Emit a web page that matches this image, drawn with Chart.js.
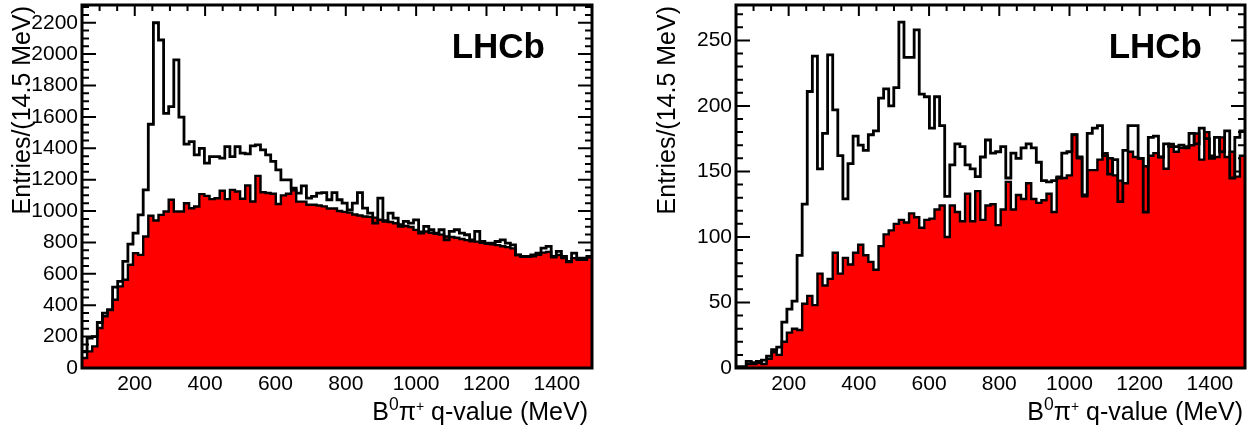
<!DOCTYPE html>
<html>
<head>
<meta charset="utf-8">
<script src="https://cdn.jsdelivr.net/npm/chart.js@4.4.1/dist/chart.umd.min.js"></script>
<style>
    html, body { margin: 0; padding: 0; background: #fff; }
    .panel { position: absolute; top: 0; width: 629px; height: 428px; }
    #leftPanel { left: 0; }
    #rightPanel { left: 629px; }
</style>
</head>
<body>
<div class="panel" id="leftPanel"><canvas id="leftChart" width="629" height="428"></canvas></div>
<div class="panel" id="rightPanel"><canvas id="rightChart" width="629" height="428"></canvas></div>
<script>
// q-value binning (MeV)
const qLow = 50;
const qHigh = 1500;
const binWidth = 14.5;

const xTickValues = [200, 400, 600, 800, 1000, 1200, 1400];
const yTickValuesLeft = [0, 200, 400, 600, 800, 1000, 1200, 1400, 1600, 1800, 2000, 2200];
const yTickValuesRight = [0, 50, 100, 150, 200, 250];

// left panel: all candidates / background (red)
const totalLeft = [
    106, 190, 200, 290, 350, 371, 515, 552, 679, 789,
    860, 976, 1135, 1553, 2200, 2090, 1623, 1665, 1963, 1598,
    1426, 1443, 1358, 1400, 1305, 1347, 1347, 1337, 1411, 1347,
    1411, 1369, 1364, 1415, 1422, 1390, 1358, 1316, 1263, 1199,
    1199, 1146, 1114, 1160, 1082, 1093, 1114, 1118, 1072, 1118,
    1072, 1050, 1008, 1050, 1118, 1019, 987, 923, 1082, 934,
    987, 955, 902, 934, 923, 944, 859, 902, 881, 859,
    881, 817, 870, 881, 859, 849, 817, 870, 806, 796,
    796, 806, 817, 796, 785, 721, 711, 711, 721, 732,
    764, 775, 711, 743, 711, 679, 732, 700, 700, 711
];
const bkgLeft = [
    64, 106, 138, 255, 330, 371, 435, 520, 562, 658,
    732, 721, 838, 970, 940, 976, 997, 1072, 997, 997,
    1050, 1018, 1029, 1108, 1097, 1076, 1082, 1129, 1076, 1135,
    1125, 1078, 1163, 1061, 1224, 1120, 1115, 1110, 1045, 1100,
    1110, 1133, 1060, 1060, 1040, 1040, 1035, 1030, 1016, 1016,
    1000, 995, 990, 978, 972, 965, 963, 958, 945, 940,
    930, 922, 915, 905, 898, 880, 868, 870, 862, 855,
    850, 838, 835, 830, 822, 815, 808, 805, 798, 792,
    788, 783, 776, 770, 762, 720, 710, 708, 712, 722,
    735, 740, 705, 720, 700, 675, 700, 690, 690, 705
];

// right panel
const totalRight = [
    1, 1, 5, 4, 5, 6, 9, 14, 16, 35,
    45, 51, 86, 125, 211, 238, 152, 179, 239, 197,
    162, 129, 156, 177, 170, 166, 178, 181, 206, 213,
    200, 214, 264, 237, 237, 258, 209, 207, 183, 207,
    185, 131, 155, 171, 169, 155, 152, 146, 161, 174,
    164, 165, 169, 145, 164, 160, 168, 171, 168, 157,
    143, 142, 143, 145, 164, 165, 178, 161, 132, 179,
    183, 185, 162, 148, 159, 127, 166, 185, 185, 160,
    119, 176, 177, 161, 171, 169, 169, 170, 168, 179,
    171, 183, 175, 160, 176, 165, 181, 145, 176, 181
];
const bkgRight = [
    0, 0, 3, 3, 4, 3, 7, 12, 10, 20,
    27, 30, 29, 49, 55, 48, 72, 63, 68, 88,
    72, 84, 79, 88, 94, 86, 81, 75, 93, 102,
    105, 110, 113, 111, 118, 115, 107, 113, 114, 121,
    124, 100, 124, 119, 112, 133, 112, 135, 113, 124,
    125, 109, 121, 142, 121, 132, 129, 141, 129, 126,
    128, 133, 119, 146, 145, 147, 178, 160, 131, 151,
    151, 159, 164, 160, 147, 143, 141, 165, 161, 160,
    154, 162, 164, 161, 152, 171, 165, 168, 169, 170,
    179, 159, 180, 162, 161, 176, 161, 165, 146, 162
];

const fontFamily = '"Liberation Sans", Arial, Helvetica, sans-serif';
Chart.defaults.font.family = fontFamily;

// bin contents -> step points at the left edge of every bin, plus closing edge
function histPoints(counts) {
    const pts = counts.map((v, i) => ({ x: qLow + i * binWidth, y: v }));
    pts.push({ x: qLow + counts.length * binWidth, y: counts[counts.length - 1] });
    return pts;
}

// ROOT-like frame: inward ticks on all four sides, titles, LHCb label
const rootFrame = {
    id: 'rootFrame',
    beforeDatasetsDraw(chart, args, opts) {
        const { ctx, chartArea: a, scales: { x, y } } = chart;
        ctx.save();
        ctx.strokeStyle = '#000';
        ctx.lineWidth = 2;
        ctx.beginPath();
        for (let v = 50; v < qHigh; v += 50) {
            const px = x.getPixelForValue(v);
            const len = v % 200 === 0 ? 11 : 6;
            ctx.moveTo(px, a.bottom); ctx.lineTo(px, a.bottom - len);
            ctx.moveTo(px, a.top); ctx.lineTo(px, a.top + len);
        }
        for (let v = opts.yMinor; v < y.max; v += opts.yMinor) {
            const py = y.getPixelForValue(v);
            const len = v % opts.yMajor === 0 ? 14 : 7;
            ctx.moveTo(a.left, py); ctx.lineTo(a.left + len, py);
            ctx.moveTo(a.right, py); ctx.lineTo(a.right - len, py);
        }
        ctx.stroke();
        ctx.restore();
    },
    afterDatasetsDraw(chart, args, opts) {
        const { ctx, chartArea: a } = chart;
        ctx.save();
        ctx.strokeStyle = '#000';
        ctx.lineWidth = 3;
        ctx.strokeRect(a.left, a.top, a.right - a.left, a.bottom - a.top);

        ctx.fillStyle = '#000';
        ctx.textBaseline = 'alphabetic';
        ctx.textAlign = 'right';
        ctx.font = 'bold 35px ' + fontFamily;
        ctx.fillText('LHCb', opts.lhcbRight, 58);

        // y title, rotated, aligned to the top of the axis
        ctx.save();
        ctx.translate(opts.yTitleX, 6);
        ctx.rotate(-Math.PI / 2);
        ctx.font = '25px ' + fontFamily;
        ctx.textAlign = 'right';
        ctx.fillText('Entries/(14.5 MeV)', 0, 0);
        ctx.restore();

        // x title with superscripts, right aligned
        const parts = [
            { t: 'B', size: 25, rise: 0 },
            { t: '0', size: 17.5, rise: 10 },
            { t: '\u03c0', size: 25, rise: 0 },
            { t: '+', size: 14, rise: 9 },
            { t: ' q-value (MeV)', size: 25, rise: 0 }
        ];
        ctx.textAlign = 'left';
        let total = 0;
        parts.forEach(p => {
            ctx.font = p.size + 'px ' + fontFamily;
            p.w = ctx.measureText(p.t).width;
            total += p.w;
        });
        let cx = opts.xTitleRight - total;
        parts.forEach(p => {
            ctx.font = p.size + 'px ' + fontFamily;
            ctx.fillText(p.t, cx, 420 - p.rise);
            cx += p.w;
        });
        ctx.restore();
    }
};

function plainLabel(value) {
    return String(value);
}

function makeChart(canvasId, total, bkg, yMax, yTicks, frameOpts, yWidth, rightPad) {
    const ctx = document.getElementById(canvasId).getContext('2d');
    return new Chart(ctx, {
        type: 'line',
        data: {
            datasets: [
                {
                    label: 'data',
                    data: histPoints(total),
                    stepped: 'before',
                    borderColor: '#000',
                    borderWidth: 2.8,
                    borderJoinStyle: 'miter',
                    pointRadius: 0,
                    fill: false,
                    order: 0
                },
                {
                    label: 'background',
                    data: histPoints(bkg),
                    stepped: 'before',
                    borderColor: '#000',
                    borderWidth: 2.4,
                    borderJoinStyle: 'miter',
                    backgroundColor: '#ff0000',
                    pointRadius: 0,
                    fill: 'origin',
                    order: 1
                }
            ]
        },
        options: {
            responsive: false,
            animation: false,
            devicePixelRatio: 1,
            layout: { padding: { top: 5, right: rightPad, left: 0, bottom: 0 } },
            plugins: {
                legend: { display: false },
                tooltip: { enabled: false },
                rootFrame: frameOpts
            },
            scales: {
                x: {
                    type: 'linear',
                    min: qLow,
                    max: qHigh,
                    grid: { display: false, drawTicks: false },
                    border: { display: false },
                    ticks: { color: '#000', font: { size: 21 }, padding: 4, maxRotation: 0, autoSkip: false, callback: plainLabel },
                    afterBuildTicks: s => { s.ticks = xTickValues.map(v => ({ value: v })); },
                    afterFit: s => { s.height = 60; s.paddingLeft = 0; s.paddingRight = 0; }
                },
                y: {
                    min: 0,
                    max: yMax,
                    grid: { display: false, drawTicks: false },
                    border: { display: false },
                    ticks: { color: '#000', font: { size: 21 }, padding: 4, callback: plainLabel },
                    afterBuildTicks: s => { s.ticks = yTicks.map(v => ({ value: v })); },
                    afterFit: s => { s.width = yWidth; s.paddingTop = 0; s.paddingBottom = 0; }
                }
            }
        },
        plugins: [rootFrame]
    });
}

makeChart('leftChart', totalLeft, bkgLeft, 2313, yTickValuesLeft,
    { yMinor: 50, yMajor: 200, lhcbRight: 545, yTitleX: 30, xTitleRight: 588 }, 82, 37);
makeChart('rightChart', totalRight, bkgRight, 277, yTickValuesRight,
    { yMinor: 10, yMajor: 50, lhcbRight: 573, yTitleX: 46, xTitleRight: 614 }, 107, 13);
</script>
</body>
</html>
